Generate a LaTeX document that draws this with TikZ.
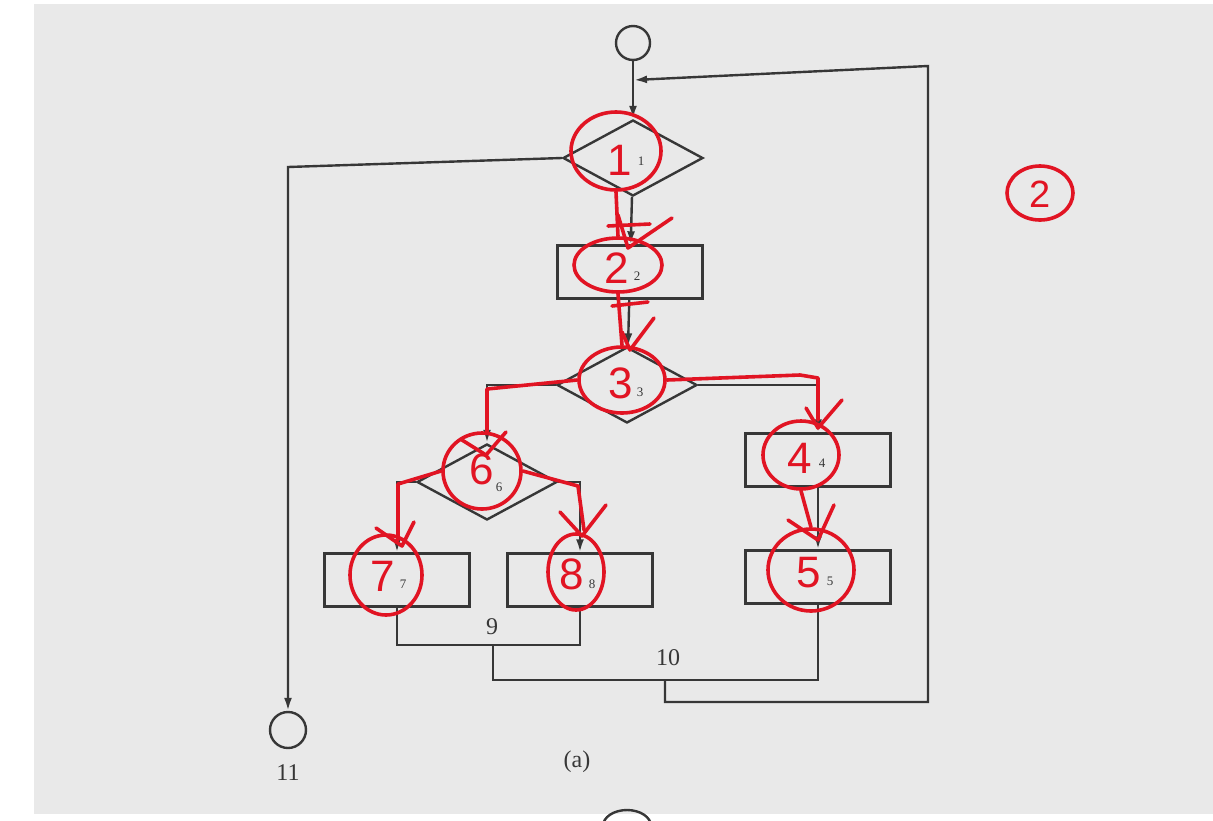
\documentclass[tikz,border=0pt]{standalone}
\usepackage{fontspec}
\setmainfont{Liberation Serif}
\newfontfamily\handfont{Liberation Sans}
\usetikzlibrary{shapes.geometric,arrows.meta}
\definecolor{page}{RGB}{233,233,233}
\definecolor{ink}{RGB}{55,55,55}
\definecolor{pen}{RGB}{225,20,35}
\begin{document}
\begin{tikzpicture}[x=1pt,y=-1pt,
  blk/.style={draw=ink,line width=2.4pt},
  arr/.style={blk,-{Latex[length=13pt,width=8pt]}},
  box/.style={blk,rectangle,minimum width=145pt,minimum height=53pt,inner sep=0pt},
  dia/.style={blk,diamond,minimum width=140pt,minimum height=76pt,inner sep=0pt},
  term/.style={blk,circle,minimum size=34pt,inner sep=0pt},
  num/.style={inner sep=0pt,text=ink,font=\fontsize{13}{13}\selectfont},
  lbl/.style={font=\fontsize{24}{24}\selectfont,text=ink},
  rd/.style={draw=pen,line width=3.6pt,line cap=round,line join=round},
  hand/.style={inner sep=0pt,text=pen,font=\handfont\fontsize{44}{44}\selectfont},
  ring/.style={rd,ellipse,inner sep=0pt}]
\useasboundingbox (0,0) rectangle (1213,820);
\fill[white] (0,0) rectangle (1213,820);
\fill[page] (34,4) rectangle (1213,814);

% black flow graph
\node[term] (s) at (633,43) {};
\node[dia] (d1) at (633,158) {};
\node[box] (n2) at (630,272) {};
\node[dia] (d3) at (627,385) {};
\node[box] (n4) at (818,460) {};
\node[dia] (d6) at (487,482) {};
\node[box] (n7) at (397,580) {};
\node[box] (n8) at (580,580) {};
\node[box] (n5) at (818,577) {};
\node[term,minimum size=36pt] (e) at (288,730) {};
\node[lbl] (l11) at (288,773) {11};
\node[lbl] (la) at (577,762) {(a)};
\draw[blk] (627,826) ellipse (24pt and 16pt);

\node[num] (t1) at (641,161) {1};
\node[num] (t2) at (637,276) {2};
\node[num] (t3) at (640,392) {3};
\node[num] (t4) at (822,463) {4};
\node[num] (t5) at (830,581) {5};
\node[num] (t6) at (499,487) {6};
\node[num] (t7) at (403,584) {7};
\node[num] (t8) at (592,584) {8};

\coordinate (m) at (634,80);
\coordinate (rt) at (928,66);
\coordinate (rb) at (928,702);
\coordinate (c9) at (493,645);
\coordinate (c10) at (665,680);
\coordinate (lt) at (288,167);

\draw[arr] (s) -- (d1.north);
\draw[arr] (d1) -- (n2);
\draw[arr] (n2) -- (d3);
\draw[arr] (d3.west) -| (d6.north);
\draw[arr] (d3.east) -| (n4.north);
\draw[arr] (n4) -- (n5);
\draw[arr] (d6.west) -| (n7.north);
\draw[arr] (d6.east) -| (n8.north);
\draw[arr] (d1.west) -- (lt) -- (e);
\draw[blk] (n7.south) |- (c9) -| (n8.south);
\draw[blk] (c9) |- (c10) -| (n5.south);
\draw[arr] (c10) |- (rb) -- (rt) -- (m);
\node[lbl] (l9) at (492,627) {9};
\node[lbl] (l10) at (668,658) {10};

% red annotations
\node[ring,minimum width=90pt,minimum height=78pt] (r1) at (616,151) {};
\node[hand] (h1) at (620,160) {1};
\node[ring,minimum width=88pt,minimum height=54pt] (r2) at (618,265) {};
\node[hand] (h2) at (617,268) {2};
\node[ring,minimum width=86pt,minimum height=66pt] (r3) at (622,380) {};
\node[hand] (h3) at (621,383) {3};
\node[ring,minimum width=78pt,minimum height=76pt] (r6) at (482,471) {};
\node[hand] (h6) at (482,469) {6};
\node[ring,minimum width=76pt,minimum height=68pt] (r4) at (801,455) {};
\node[hand] (h4) at (800,458) {4};
\node[ring,minimum width=86pt,minimum height=82pt] (r5) at (811,570) {};
\node[hand] (h5) at (809,573) {5};
\node[ring,minimum width=72pt,minimum height=80pt] (r7) at (386,575) {};
\node[hand] (h7) at (383,576) {7};
\node[ring,minimum width=56pt,minimum height=76pt] (r8) at (576,572) {};
\node[hand] (h8) at (572,574) {8};
\node[ring,minimum width=66pt,minimum height=54pt] (rr) at (1040,193) {};
\node[hand,font=\handfont\fontsize{38}{38}\selectfont] (hr) at (1040,194) {2};

% red traced edges
\draw[rd] (r1.south) -- (r2.north);
\draw[rd] (r2.south) -- (r3.north);
\draw[rd] (r3.west) -- (487,389) -- (487,432);
\draw[rd] (r3.east) -- (800,375) -- (818,378) -- (818,420);
\draw[rd] (r4.south) -- (r5.north);
\draw[rd] (r6.west) -- (398,484) -- (398,540);
\draw[rd] (r6.east) -- (578,486) -- (584,530);

% red ticks
\draw[rd] (608,226) -- (650,224);
\draw[rd] (618,215) -- (628,248) -- (672,218);
\draw[rd] (612,306) -- (648,302);
\draw[rd] (622,332) -- (630,350) -- (654,318);
\draw[rd] (806,408) -- (818,428) -- (842,400);
\draw[rd] (462,440) -- (486,455) -- (506,432);
\draw[rd] (376,528) -- (402,546) -- (414,522);
\draw[rd] (560,512) -- (582,536) -- (606,505);
\draw[rd] (788,520) -- (818,540) -- (834,505);
\end{tikzpicture}
\end{document}
